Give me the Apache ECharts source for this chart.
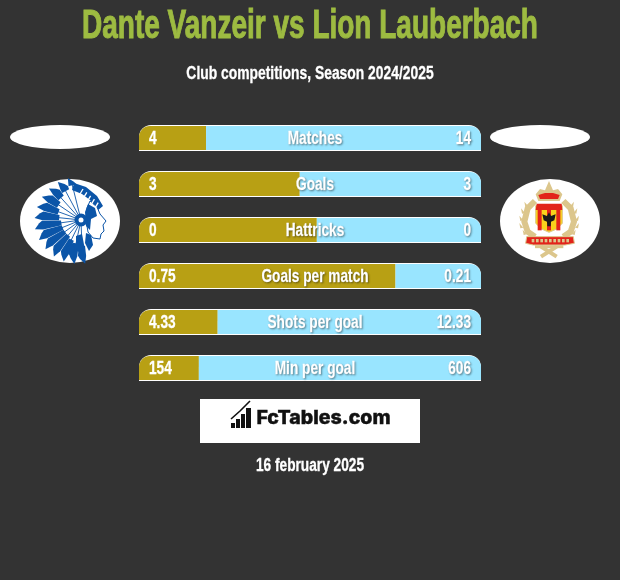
<!DOCTYPE html>
<html><head><meta charset="utf-8">
<style>html,body{margin:0;padding:0;background:#333}#c{width:620px;height:580px}</style>
<script src="https://cdn.jsdelivr.net/npm/echarts@6/dist/echarts.min.js"></script>
</head><body><div id="c"></div>
<script>
const categories = ['Matches','Goals','Hattricks','Goals per match','Shots per goal','Min per goal'];
const leftLabels = ['4','3','0','0.75','4.33','154'];
const rightLabels = ['14','3','0','0.21','12.33','606'];
const leftShare = [19.6,47,52,75,23,17.5];
const rightShare = [80.4,53,48,25,77,82.5];
const fullBar = [100,100,100,100,100,100];

const GOLD='#B8A014', BLUE='#99E5FF', GREEN='#9DBB41', FONT='"Liberation Sans",sans-serif';

function txt(text,x,y,font,fill,sx,stroke){
  return {type:'text',x:x,y:y,scaleX:sx||1,z:20,
    style:{text:text,font:font,fill:fill,textAlign:'center',textVerticalAlign:'middle',stroke:stroke?fill:null,lineWidth:stroke||0}};
}
const g=[];
const el=(cx,cy,rx,ry,fill,z)=>({type:'circle',x:cx,y:cy,scaleX:rx/100,scaleY:ry/100,shape:{cx:0,cy:0,r:100},style:{fill:fill||'#fff'},z:z||5});
g.push(txt('Dante Vanzeir vs Lion Lauberbach',310,27,'bold 40px '+FONT,GREEN,0.70,1));
g.push(txt('Club competitions, Season 2024/2025',310,74,'bold 18px '+FONT,'#fff',0.77,0.3));
g.push(el(60,137,50,12),el(540,137,50,12),el(70,221,50,42),el(550,221,50,42));

// left emblem
const LB='#0B55A8';
const poly=(pts,fill,z,stroke,lw)=>({type:'polygon',shape:{points:pts},style:{fill:fill,stroke:stroke,lineWidth:lw||0},z:z||6});
const line=(pts,color,lw,z)=>({type:'polyline',shape:{points:pts},style:{stroke:color,lineWidth:lw,fill:null},z:z||7});
const hx=81,hy=220;
const inner=[36,33,30,27,24,22,20,20,20,20,22,24,26];
for(let i=0;i<13;i++){
  const a=(-104-i*14)*Math.PI/180, len=47-Math.abs(i-6)*0.5, w=0.12;
  const p=(r,d)=>[hx+r*Math.cos(a+d),hy+r*Math.sin(a+d)];
  const r0=inner[i];
  g.push(poly([p(r0,-w),p(len-8,-w*0.9),p(len,-0.06),p(len-5,w*0.5),p(len-8,w),p(r0,w)],LB,6));
}
for(let i=0;i<13;i++){
  const a=(-104-i*14)*Math.PI/180;
  g.push(line([[hx+6*Math.cos(a),hy+6*Math.sin(a)],[hx+(inner[i]+2)*Math.cos(a),hy+(inner[i]+2)*Math.sin(a)]],LB,0.9,8));
}
g.push(poly([[74,183],[86,187],[97,196],[103,206],[97,211],[90,200],[82,194],[72,190]],LB,9));
for(let i=0;i<5;i++) g.push(line([[83+i*3.8,189+i*3.4],[80+i*3.8,194+i*3.4]],'#fff',1.3,10));
g.push(poly([[90,201],[97,207],[100,214],[106,221],[103,225],[104,231],[101,234],[100,239],[93,238],[88,232],[86,220],[87,208]],'#fff',9,LB,1));
g.push(poly([[88,204],[95,208],[97,216],[91,219],[90,230],[86,226],[85,212]],LB,10));
g.push(el(81,220,6.5,6.5,LB,10),el(81,220,2.5,2.5,'#fff',11));
g.push(poly([[76,236],[82,234],[85,250],[81,256],[76,248]],LB,9));
g.push(poly([[86,233],[91,235],[93,245],[89,251],[85,243]],LB,9));
g.push(poly([[66,248],[73,243],[75,251],[69,255]],LB,9));

// right emblem
const X=v=>485+v/3,Y=v=>115+v/3;
const P=a=>a.map(q=>[X(q[0]),Y(q[1])]);
const LG='#DCC68C',RED='#E2231A',YEL='#F8D21C';
g.push(line(P([[150,258],[128,280],[118,320],[128,350],[150,365]]),LG,6));
g.push(line(P([[235,258],[257,280],[267,320],[257,350],[235,365]]),LG,6));
[[130,268,-1],[120,288,-1],[115,310,-1],[115,332,-1],[125,352,-1],[255,268,1],[265,288,1],[270,310,1],[270,332,1],[260,352,1]].forEach(q=>{
  g.push(poly(P([[q[0],q[1]+6],[q[0]+q[2]*12,q[1]-8],[q[0]+q[2]*9,q[1]+8]]),LG,7));
  g.push(poly(P([[q[0],q[1]+6],[q[0]-q[2]*12,q[1]-8],[q[0]-q[2]*9,q[1]+8]]),LG,7));
});
g.push(poly(P([[152,272],[232,272],[232,325],[215,342],[192,352],[170,342],[152,325]]),YEL,8,LG,1));
g.push(poly(P([[155,266],[230,266],[232,285],[152,285]]),RED,9));
[164,192,220].forEach(v=>g.push(poly(P([[v-6,285],[v+6,285],[v+6,346],[v-6,346]]),RED,9)));
g.push(poly(P([[192,292],[198,303],[212,298],[208,316],[198,320],[197,334],[187,334],[186,320],[176,316],[172,298],[186,303]]),'#1a1a1a',10));
g.push(poly(P([[160,258],[152,238],[165,222],[180,226],[192,198],[204,226],[219,222],[232,238],[224,258]]),LG,8));
g.push(poly(P([[165,252],[160,240],[180,234],[204,234],[224,240],[219,252]]),RED,9));
g.push(poly(P([[125,365],[265,365],[268,385],[240,390],[145,390],[122,385]]),RED,9,LG,1));
for(let i=0;i<9;i++) g.push(poly(P([[140+i*13,372],[148+i*13,372],[148+i*13,382],[140+i*13,382]]),LG,10));
g.push(line(P([[168,425],[215,395]]),LG,4),line(P([[215,425],[168,395]]),LG,4));
g.push(line(P([[150,395],[235,395]]),LG,3));

// FcTables box
g.push({type:'rect',shape:{x:200,y:399,width:220,height:44},style:{fill:'#fff'},z:5});
[[231,423,4,5],[236,419,4,9],[241,414,4,14],[246,408,5,20]].forEach(r=>g.push({type:'rect',shape:{x:r[0],y:r[1],width:r[2],height:r[3]},style:{fill:'#111'},z:6}));
g.push(line([[231,419],[240,411],[246,405],[250,401]],'#111',1.6,6));
g.push(txt('FcTables.com',323.5,418,'800 19px Inter,sans-serif','#111',1.03,0.4));
g.push(txt('16 february 2025',310,466,'bold 18px '+FONT,'#fff',0.76,0.3));

const labelStyle=(anchor,shadow)=>({text:'',fill:'#fff',font:'bold 19px '+FONT,textAlign:anchor,textVerticalAlign:'middle',
  stroke:'#fff',lineWidth:0.3,
  textShadowColor:shadow?'rgba(0,0,0,0.4)':'transparent',textShadowBlur:shadow?2:0,textShadowOffsetX:shadow?1:0,textShadowOffsetY:shadow?1:0});
function labelSeries(name,texts,xValue,pad,anchor,shadow){
  return {name:name,type:'custom',coordinateSystem:'cartesian2d',xAxisIndex:0,yAxisIndex:0,silent:true,z:5,clip:false,
    data:texts.map((t,i)=>[xValue,i]),encode:{x:0,y:1},
    renderItem:(params,api)=>{
      const c=api.coord([api.value(0),api.value(1)]);
      return {type:'text',x:c[0]+pad,y:c[1]+0.5,scaleX:0.72,style:Object.assign(labelStyle(anchor,shadow),{text:texts[params.dataIndex]})};
    }};
}

const chart=echarts.init(document.getElementById('c'),null,{renderer:'canvas'});
const yBase={type:'category',data:categories,inverse:true,axisLine:{show:false},axisTick:{show:false},axisLabel:{show:false},splitLine:{show:false}};
chart.setOption({
  backgroundColor:'#333333',animation:false,
  grid:{left:139,top:115,width:342,height:276},
  xAxis:{type:'value',min:0,max:100,show:false},
  yAxis:[yBase,Object.assign({},yBase)],
  graphic:{elements:g},
  series:[
    {name:'edge',type:'bar',yAxisIndex:1,data:fullBar,barWidth:26,silent:true,z:1,
      itemStyle:{color:'#ffffff',borderRadius:[12,12,0,0]}},
    {name:'left',type:'bar',yAxisIndex:0,stack:'s',data:leftShare,barWidth:24,z:2,
      itemStyle:{color:GOLD,borderRadius:[11,0,0,0]}},
    {name:'right',type:'bar',yAxisIndex:0,stack:'s',data:rightShare,barWidth:24,z:2,
      itemStyle:{color:BLUE,borderRadius:[0,11,0,0]}},
    labelSeries('leftText',leftLabels,0,10,'left',false),
    labelSeries('rightText',rightLabels,100,-10,'right',true),
    labelSeries('nameText',categories,50,5,'center',true)
  ]
});
</script>
</body></html>
